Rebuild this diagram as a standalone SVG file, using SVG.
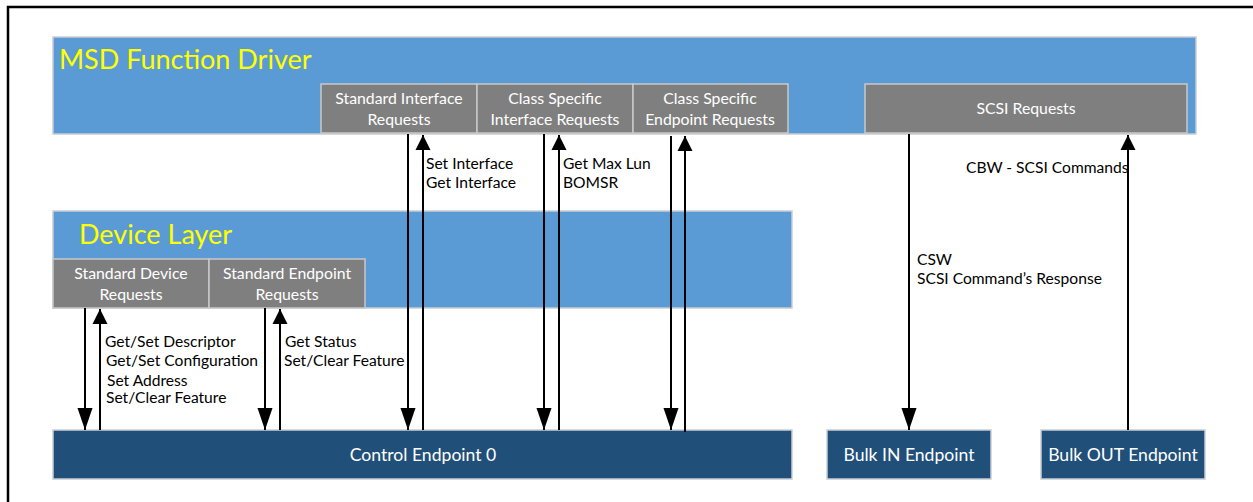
<svg xmlns="http://www.w3.org/2000/svg" width="1253" height="502" viewBox="0 0 1253 502">
  <style>
    .layer { fill: #5B9BD5; stroke: #C9CDD2; stroke-width: 1.5; }
    .req { fill: #7F7F7F; stroke: #C9C9C9; stroke-width: 1.5; }
    .ep { fill: #204F7A; stroke: #C9CDD2; stroke-width: 1.5; }
    .title { font-family: Lato, "Liberation Sans", sans-serif; font-size: 27px; fill: #FFFF00; }
    .rt { font-family: Lato, "Liberation Sans", sans-serif; font-size: 15.8px; fill: #FFFFFF; text-anchor: middle; }
    .et { font-family: Lato, "Liberation Sans", sans-serif; font-size: 17.6px; fill: #FFFFFF; text-anchor: middle; }
    .lbl { font-family: Lato, "Liberation Sans", sans-serif; font-size: 15.6px; fill: #000000; }
    .wire { stroke: #000000; stroke-width: 2; fill: none; }
    .dn { marker-end: url(#headLong); }
    .up { marker-end: url(#headShort); }
  </style>
  <defs>
    <marker id="headLong" markerUnits="userSpaceOnUse" markerWidth="22" markerHeight="16" refX="22" refY="8" orient="auto">
      <path d="M0,0.5 L22,8 L0,15.5 Z" fill="#000"/>
    </marker>
    <marker id="headShort" markerUnits="userSpaceOnUse" markerWidth="15" markerHeight="16" refX="15" refY="8" orient="auto">
      <path d="M0,0.5 L15,8 L0,15.5 Z" fill="#000"/>
    </marker>
  </defs>

  <!-- page frame -->
  <path d="M8,510 L8,7 L1260,7" fill="none" stroke="#000" stroke-width="2.5"/>

  <!-- MSD function driver layer -->
  <g id="msd-function-driver">
    <rect class="layer" x="53" y="37" width="1143" height="97"/>
    <text class="title" x="59" y="69">MSD Function Driver</text>
  </g>
  <g id="standard-interface-requests">
    <rect class="req" x="321" y="84" width="156" height="49"/>
    <text class="rt" x="399" y="104">Standard Interface</text>
    <text class="rt" x="399" y="125">Requests</text>
  </g>
  <g id="class-interface-requests">
    <rect class="req" x="477" y="84" width="156" height="49"/>
    <text class="rt" x="555" y="104">Class Specific</text>
    <text class="rt" x="555" y="125">Interface Requests</text>
  </g>
  <g id="class-endpoint-requests">
    <rect class="req" x="633" y="84" width="155" height="49"/>
    <text class="rt" x="710" y="104">Class Specific</text>
    <text class="rt" x="710" y="125">Endpoint Requests</text>
  </g>
  <g id="scsi-requests">
    <rect class="req" x="865" y="84" width="322" height="49"/>
    <text class="rt" x="1026" y="114">SCSI Requests</text>
  </g>

  <!-- device layer -->
  <g id="device-layer">
    <rect class="layer" x="53" y="211" width="739" height="97"/>
    <text class="title" x="79" y="244">Device Layer</text>
  </g>
  <g id="standard-device-requests">
    <rect class="req" x="53" y="259" width="156" height="49"/>
    <text class="rt" x="131" y="279">Standard Device</text>
    <text class="rt" x="131" y="300">Requests</text>
  </g>
  <g id="standard-endpoint-requests">
    <rect class="req" x="209" y="259" width="156" height="49"/>
    <text class="rt" x="287" y="279">Standard Endpoint</text>
    <text class="rt" x="287" y="300">Requests</text>
  </g>

  <!-- endpoints -->
  <g id="control-endpoint-0">
    <rect class="ep" x="53" y="430" width="739" height="49"/>
    <text class="et" x="423" y="461">Control Endpoint 0</text>
  </g>
  <g id="bulk-in-endpoint">
    <rect class="ep" x="827" y="430" width="164" height="49"/>
    <text class="et" x="909" y="461">Bulk IN Endpoint</text>
  </g>
  <g id="bulk-out-endpoint">
    <rect class="ep" x="1041" y="430" width="164" height="49"/>
    <text class="et" x="1123" y="461">Bulk OUT Endpoint</text>
  </g>

  <!-- request / response flows -->
  <g id="connectors">
    <line class="wire dn" x1="85" y1="308" x2="85" y2="430"/>
    <line class="wire up" x1="100" y1="430" x2="100" y2="309"/>
    <line class="wire dn" x1="265" y1="308" x2="265" y2="430"/>
    <line class="wire up" x1="280" y1="430" x2="280" y2="309"/>
    <line class="wire dn" x1="408" y1="134" x2="408" y2="430"/>
    <line class="wire up" x1="423" y1="430" x2="423" y2="135"/>
    <line class="wire dn" x1="544" y1="134" x2="544" y2="430"/>
    <line class="wire up" x1="559" y1="430" x2="559" y2="135"/>
    <line class="wire dn" x1="671" y1="136" x2="671" y2="430"/>
    <line class="wire up" x1="685" y1="432" x2="685" y2="136"/>
    <line class="wire dn" x1="909" y1="134" x2="909" y2="430"/>
    <line class="wire up" x1="1128" y1="430" x2="1128" y2="135"/>

    <text class="lbl" x="105" y="347">Get/Set Descriptor</text>
    <text class="lbl" x="106" y="366">Get/Set Configuration</text>
    <text class="lbl" x="107" y="386">Set Address</text>
    <text class="lbl" x="106" y="403">Set/Clear Feature</text>
    <text class="lbl" x="285" y="347">Get Status</text>
    <text class="lbl" x="284" y="366">Set/Clear Feature</text>
    <text class="lbl" x="426" y="169">Set Interface</text>
    <text class="lbl" x="426" y="188">Get Interface</text>
    <text class="lbl" x="563" y="169">Get Max Lun</text>
    <text class="lbl" x="563" y="188">BOMSR</text>
    <text class="lbl" x="966" y="173">CBW - SCSI Commands</text>
    <text class="lbl" x="917" y="265">CSW</text>
    <text class="lbl" x="917" y="284">SCSI Command’s Response</text>
  </g>
</svg>
